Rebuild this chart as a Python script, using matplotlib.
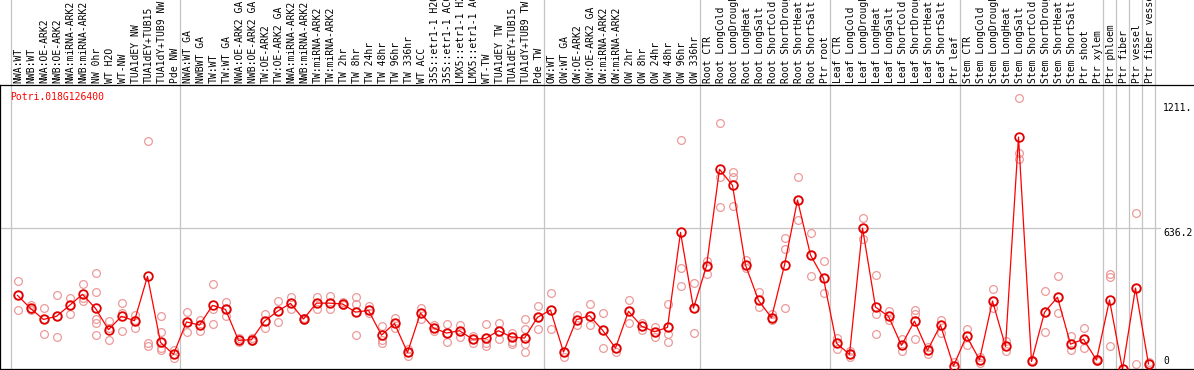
import matplotlib
matplotlib.use('Agg')
import matplotlib.pyplot as plt
import matplotlib.transforms as mtransforms

gene = 'Potri.018G126400'

labels = [
    'NWA:WT', 'NWB:WT', 'NWA:OE-ARK2', 'NWB:OE-ARK2', 'NWA:miRNA-ARK2', 'NWB:miRNA-ARK2',
    'NW 0hr', 'WT H2O', 'WT-NW', 'TUA1dEY NW', 'TUA1dEY+TUB15', 'TUA1dY+TUB9 NW', 'Pde NW',
    'NWA:WT GA', 'NWBWT GA', 'TW:WT', 'TW:WT GA', 'NWA:OE-ARK2 GA', 'NWB:OE-ARK2 GA',
    'TW:OE-ARK2', 'TW:OE-ARK2 GA', 'NWA:miRNA-ARK2', 'NWB:miRNA-ARK2', 'TW:miRNA-ARK2',
    'TW:miRNA-ARK2', 'TW 2hr', 'TW 8hr', 'TW 24hr', 'TW 48hr', 'TW 96hr', 'TW 336hr', 'WT ACC',
    '35S::etr1-1 H2O', '35S::etr1-1 ACC', 'LMX5::etr1-1 H2O', 'LMX5::etr1-1 ACC', 'WT-TW',
    'TUA1dEY TW', 'TUA1dEY+TUB15', 'TUA1dY+TUB9 TW', 'Pde TW',
    'OW:WT', 'OW:WT GA', 'OW:OE-ARK2', 'OW:OE-ARK2 GA', 'OW:miRNA-ARK2', 'OW:miRNA-ARK2',
    'OW 2hr', 'OW 8hr', 'OW 24hr', 'OW 48hr', 'OW 96hr', 'OW 336hr',
    'Root CTR', 'Root LongCold', 'Root LongDrought', 'Root LongHeat', 'Root LongSalt',
    'Root ShortCold', 'Root ShortDrought', 'Root ShortHeat', 'Root ShortSalt', 'Ptr root',
    'Leaf CTR', 'Leaf LongCold', 'Leaf LongDrought', 'Leaf LongHeat', 'Leaf LongSalt',
    'Leaf ShortCold', 'Leaf ShortDrought', 'Leaf ShortHeat', 'Leaf ShortSalt', 'Ptr leaf',
    'Stem CTR', 'Stem LongCold', 'Stem LongDrought', 'Stem LongHeat', 'Stem LongSalt',
    'Stem ShortCold', 'Stem ShortDrought', 'Stem ShortHeat', 'Stem ShortSalt', 'Ptr shoot',
    'Ptr xylem', 'Ptr phloem', 'Ptr fiber', 'Ptr vessel', 'Ptr fiber vessel',
]

means = [
    314, 252, 199, 214, 266, 319, 252, 150, 214, 193, 405, 89, 32,
    187, 172, 266, 247, 99, 102, 191, 238, 276, 201, 277, 277, 273, 234, 242,
    124, 180, 41, 230, 158, 134, 145, 105, 108, 145, 115, 110, 209,
    244, 43, 198, 217, 148, 62, 238, 167, 140, 161, 615, 253,
    454, 917, 840, 459, 290, 207, 459, 770, 507, 395,
    85, 32, 636, 258, 214, 75, 191, 51, 172, -24,
    120, 6, 287, 70, 1071, -2, 233, 305, 81, 104, 5,
    292, -40, 349, -14,
]

reps = [
    [383, 242, 318], [266, 242, 248], [252, 199, 128], [316, 115, 214], [300, 225, 270],
    [368, 289, 300], [421, 328, 202, 180, 123], [191, 99, 160], [277, 228, 142],
    [222, 159, 198], [1052, 88, 72], [214, 139, 89, 61, 53], [53, 13, 32],
    [234, 139, 187], [196, 144, 172], [368, 247, 177], [281, 214, 247], [108, 99, 92],
    [102, 110, 96], [225, 159, 191], [287, 187, 238], [308, 247, 276], [201, 196, 206],
    [308, 247, 277], [311, 247, 277], [273, 266, 280], [308, 274, 123, 234], [263, 242, 230],
    [169, 100, 88], [205, 180, 158], [57, 41, 25], [252, 230, 202], [174, 158, 145],
    [175, 134, 92], [172, 145, 113], [121, 105, 85], [175, 108, 85, 72], [183, 145, 104],
    [135, 115, 92, 81], [202, 153, 110, 81, 41], [263, 209, 155],
    [325, 244, 155], [43, 21], [198, 174, 222], [273, 217, 171], [230, 148, 62], [62, 41],
    [292, 238, 182], [183, 167, 147], [161, 140, 113], [273, 161, 128, 91], [1057, 443, 357],
    [372, 253, 132],
    [477, 454, 415], [1137, 882, 735], [905, 879, 740], [483, 459, 443], [330, 290, 260],
    [223, 207, 196], [587, 536, 252], [879, 770, 674], [611, 507, 407], [477, 395, 325],
    [110, 85, 56], [49, 32, 18], [684, 636, 582], [410, 225, 129], [239, 214, 196],
    [107, 75, 49], [244, 225, 107], [69, 51, 35], [196, 172, 132], [-3],
    [152, 120, 78], [21, 6, -11], [343, 287, 252], [97, 70, 49], [1256, 993, 966],
    [3, -2], [335, 233, 137], [407, 305, 231], [120, 81, 53], [158, 104, 61], [8, 5, 2],
    [415, 400, 72], [], [706, 349, -16], [-3, -14],
]

group_edges = [-0.5, 12.5, 40.5, 52.5, 62.5, 72.5, 83.5, 84.5, 85.5, 86.5, 87.5]
ytick_vals = [0, 636.2, 1211.]
ytick_text = ['0', '636.2', '1211.']
ytick_va = ['center', 'top', 'center']

W, H = 1194, 370
mono = 'DejaVu Sans Mono'
fs = 7

fig = plt.figure(figsize=(W / 100, H / 100), dpi=100)
# plot area spans pixel rows 85..369, header with labels above
ax = fig.add_axes([0, 1 / H, 1, 284 / H])
ax.set_xlim((0 - 17.5) / 13, (W - 17.5) / 13)
ax.set_ylim(-38, 1320)
ax.set_xticks([])
ax.set_yticks([])
for s in ['left', 'bottom', 'top']:
    ax.spines[s].set_linewidth(0.9)
    ax.spines[s].set_color('black')
ax.spines['right'].set_visible(False)

# group separators run through the header too
for e in group_edges:
    ax.axvline(e, ymin=0, ymax=1.31, color='#c4c4c4', lw=0.9, clip_on=False, zorder=0)
ax.axhline(636.2, xmin=0, xmax=1160 / W, color='#c4c4c4', lw=0.9, zorder=0)

xs = list(range(len(means)))

# replicates
for i, r in enumerate(reps):
    ax.plot([i] * len(r), r, 'o', ms=5.6, mfc='none', mec='#ec9a9a', mew=0.9, zorder=1)

ax.plot(xs, means, '-', color='#ff0000', lw=0.9, zorder=2)
ax.plot(xs, means, 'o', ms=6.2, mfc='none', mec='#e00000', mew=1.3, zorder=3)

# column labels in header
trans = mtransforms.blended_transform_factory(ax.transData, ax.transAxes)
for i, lab in enumerate(labels):
    ax.text(i + 0.1, 1 + 2 / 284, lab, transform=trans, rotation=90, ha='center', va='bottom',
            fontsize=fs, family=mono, clip_on=False)

ax.text((10 - 17.5) / 13, (369 - 97) / 284, gene, transform=trans, color='#ff0000',
        ha='left', va='center', fontsize=fs, family=mono)

for v, t, va in zip(ytick_vals, ytick_text, ytick_va):
    ax.text((1163 - 17.5) / 13, v, t, ha='left', va=va, fontsize=fs, family=mono)

fig.savefig('out.png', dpi=100)
